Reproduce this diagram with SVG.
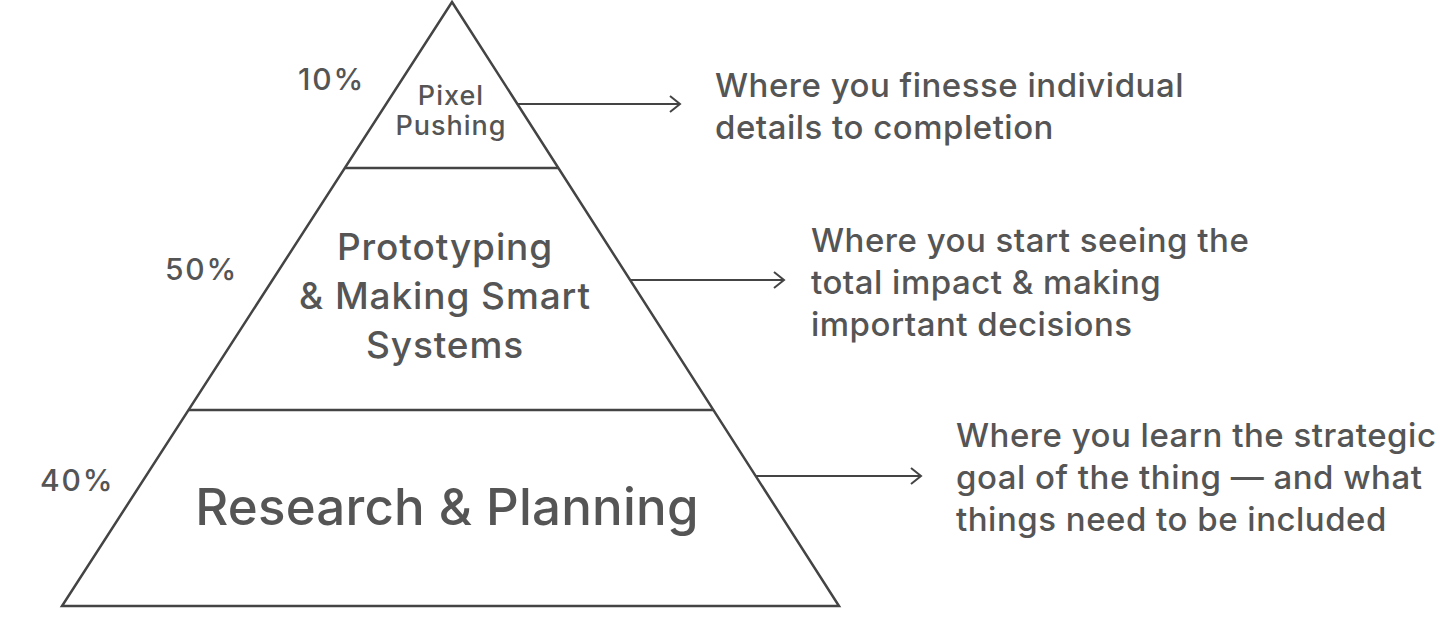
<svg xmlns="http://www.w3.org/2000/svg" width="1456" height="619" viewBox="0 0 1456 619">
<defs>
<marker id="arr" markerWidth="14" markerHeight="20" refX="12" refY="10" orient="auto" markerUnits="userSpaceOnUse">
<path d="M2,2 L12,10 L2,18" fill="none" stroke="#444" stroke-width="2"/>
</marker>
<style>
.shape{fill:#fff;stroke:#444;stroke-width:2.5;stroke-linejoin:miter}
.div{stroke:#444;stroke-width:2.5}
.conn{stroke:#444;stroke-width:2;fill:none}
text{font-family:Inter,"Liberation Sans",sans-serif;fill:#555;font-weight:500}
.lab{text-anchor:middle}
.pct{font-size:30px;letter-spacing:1.8px}
.desc{font-size:33px;letter-spacing:0.5px}
</style>
</defs>
<rect width="1456" height="619" fill="#fff"/>
<g id="pyramid">
<polygon class="shape" points="452,2 839,606 62,606"/>
</g>
<g id="top">
<line class="div" x1="345" y1="168" x2="558" y2="168"/>
<text class="lab" x="451" y="105" font-size="27" letter-spacing="1">Pixel</text>
<text class="lab" x="451" y="135" font-size="27" letter-spacing="1">Pushing</text>
<text class="pct" x="298" y="90">10%</text>
<text class="desc" x="715" y="97">Where you finesse individual</text>
<text class="desc" x="715" y="139">details to completion</text>
</g>
<g id="middle">
<line class="div" x1="189" y1="410" x2="713" y2="410"/>
<text class="lab" x="445" y="260" font-size="37" letter-spacing="0.9">Prototyping</text>
<text class="lab" x="445" y="309" font-size="37" letter-spacing="0.9">&amp; Making Smart</text>
<text class="lab" x="445" y="358" font-size="37" letter-spacing="0.9">Systems</text>
<text class="pct" x="165" y="280">50%</text>
<text class="desc" x="811" y="252">Where you start seeing the</text>
<text class="desc" x="811" y="294">total impact &amp; making</text>
<text class="desc" x="811" y="336">important decisions</text>
</g>
<g id="bottom">
<text class="lab" x="447" y="525" font-size="51" letter-spacing="0.2">Research &amp; Planning</text>
<text class="pct" x="40" y="491">40%</text>
<text class="desc" x="956" y="447">Where you learn the strategic</text>
<text class="desc" x="956" y="489">goal of the thing — and what</text>
<text class="desc" x="956" y="531">things need to be included</text>
</g>
<g id="connectors">
<line class="conn" x1="518" y1="104" x2="680" y2="104" marker-end="url(#arr)"/>
<line class="conn" x1="630" y1="280" x2="784" y2="280" marker-end="url(#arr)"/>
<line class="conn" x1="756" y1="476" x2="921" y2="476" marker-end="url(#arr)"/>
</g>
</svg>
